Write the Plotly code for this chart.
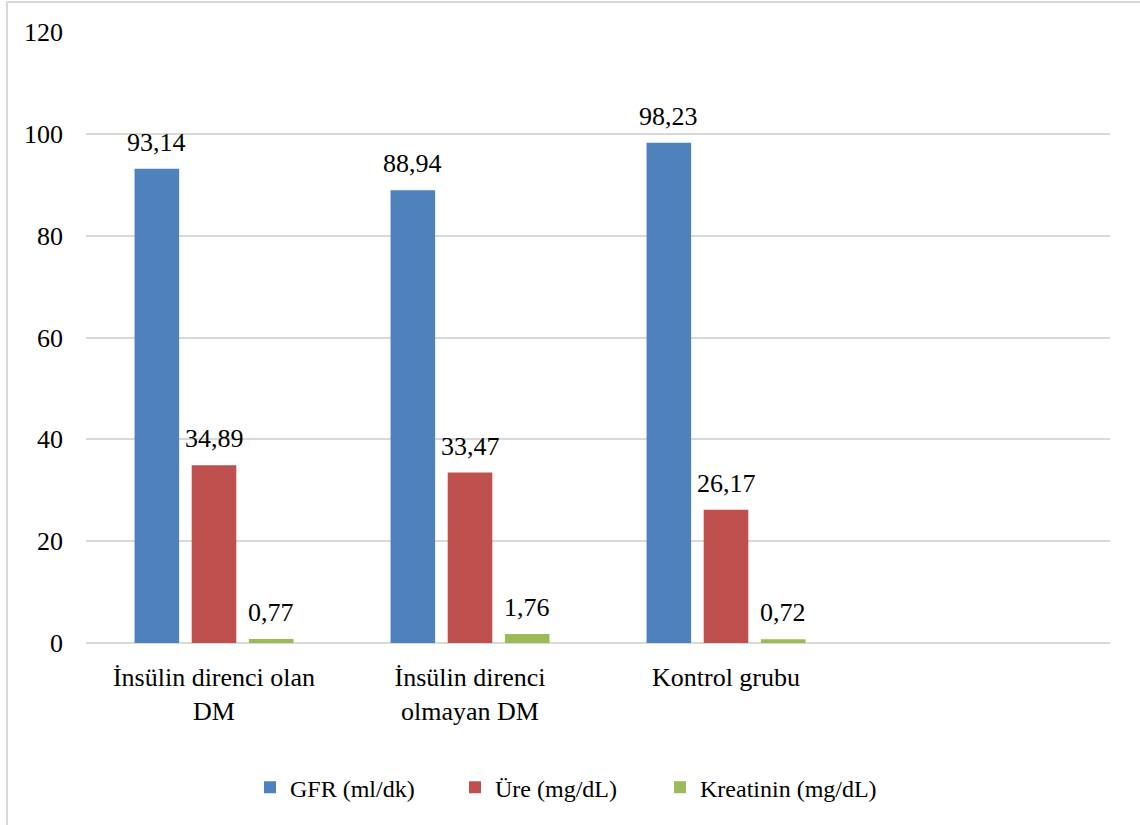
import plotly.graph_objects as go

categories = ["İnsülin direnci olan<br>DM", "İnsülin direnci<br>olmayan DM", "Kontrol grubu"]
series_names = ["GFR (ml/dk)", "Üre (mg/dL)", "Kreatinin (mg/dL)"]
gfr = [93.14, 88.94, 98.23]
ure = [34.89, 33.47, 26.17]
kreatinin = [0.77, 1.76, 0.72]
y_ticks = [0, 20, 40, 60, 80, 100, 120]

colors = ["#4F81BD", "#C0504D", "#9BBB59"]
FONT = "Times New Roman, Liberation Serif, serif"

W, H = 1140, 825
ML, MR, MT, MB = 86, 30, 32, 182
BARGAP, BARGROUPGAP = 0.33, 0.22

series = [gfr, ure, kreatinin]
fig = go.Figure()
for name, vals, col in zip(series_names, series, colors):
    fig.add_trace(go.Bar(
        x=categories, y=vals, name=name,
        marker=dict(color=col, line=dict(width=0)),
        hoverinfo="x+y+name",
    ))

# invisible spacer entry so the last legend label is not clipped
fig.add_trace(go.Scatter(x=[None], y=[None], name="", mode="markers",
                         marker=dict(color="rgba(0,0,0,0)", size=1,
                                     line=dict(width=0)),
                         showlegend=True, hoverinfo="skip"))

# value labels above each bar
slot = (1 - BARGAP) / len(series)
for si, vals in enumerate(series):
    off = (si - (len(series) - 1) / 2) * slot
    for ci, v in enumerate(vals):
        fig.add_annotation(
            x=ci + off, y=v, xref="x", yref="y",
            text=f"{v:.2f}".replace(".", ","), showarrow=False,
            yanchor="bottom", yshift=10,
            font=dict(family=FONT, size=26, color="#000000"),
        )

# outer chart border (light gray frame)
pw = W - ML - MR
ph = H - MT - MB
fig.add_shape(type="rect", xref="paper", yref="paper",
              x0=(7 - ML) / pw, x1=(W + 5 - ML) / pw,
              y0=(H - MB - (H + 5)) / ph, y1=(H - MB - 2) / ph,
              line=dict(color="#d9d9d9", width=2), fillcolor="rgba(0,0,0,0)",
              layer="below")

fig.update_layout(
    width=W, height=H,
    margin=dict(l=ML, r=MR, t=MT, b=MB),
    paper_bgcolor="white", plot_bgcolor="white",
    separators=",.",
    barmode="group", bargap=BARGAP, bargroupgap=BARGROUPGAP,
    font=dict(family=FONT, size=26, color="#000000"),
    showlegend=True,
    legend=dict(orientation="h", x=(250 - ML) / pw, xanchor="left",
                y=-0.2, yanchor="top",
                entrywidth=160, entrywidthmode="pixels",
                font=dict(family=FONT, size=24, color="#000000"),
                bgcolor="rgba(0,0,0,0)"),
    xaxis=dict(type="category", range=[-0.5, 3.5], showgrid=False,
               showline=False, ticks="", zeroline=False, ticklabelstandoff=16,
               tickfont=dict(family=FONT, size=26, color="#000000")),
    yaxis=dict(range=[0, 120], tickvals=y_ticks, showgrid=True,
               gridcolor="#d9d9d9", gridwidth=1.5, zeroline=True,
               zerolinecolor="#d9d9d9", zerolinewidth=2,
               showline=False, ticks="", ticklabelstandoff=22,
               tickfont=dict(family=FONT, size=26, color="#000000")),
)

fig.write_html("out.html")
